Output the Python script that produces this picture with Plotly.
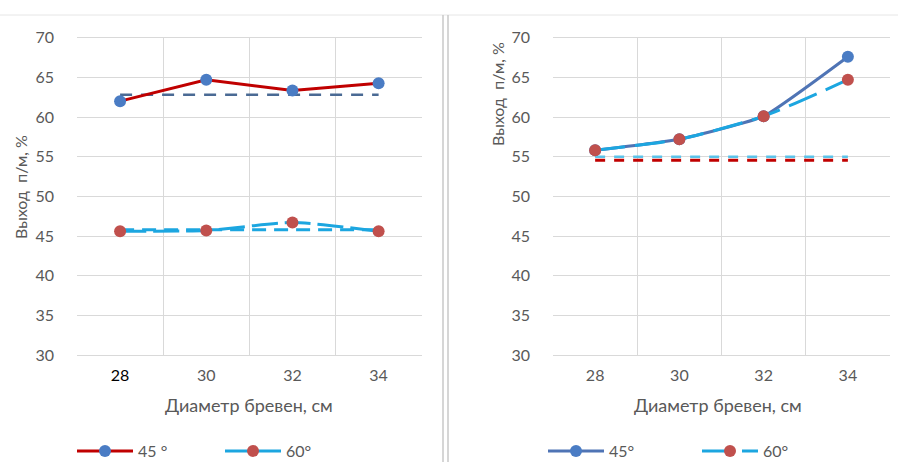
import plotly.graph_objects as go

# ---------------- data ----------------
diameters = ["28", "30", "32", "34"]

left_45 = [62.0, 64.7, 63.35, 64.25]
left_60 = [45.6, 45.7, 46.7, 45.6]
left_45_mean = [62.8, 62.8, 62.8, 62.8]
left_60_mean = [45.8, 45.8, 45.8, 45.8]

right_45 = [55.8, 57.2, 60.1, 67.6]
right_60 = [55.8, 57.2, 60.1, 64.7]
right_60_mean = [55.0, 55.0, 55.0, 55.0]
right_45_mean = [54.55, 54.55, 54.55, 54.55]

y_ticks = [30, 35, 40, 45, 50, 55, 60, 65, 70]
x_title = "Диаметр бревен, см"
y_title = "Выход  п/м, %"

# ---------------- styles ----------------
RED = "#C00000"
CYAN = "#1CA6E0"
BLUE_M = "#4A7CC4"
RED_M = "#C0504D"
BLUE_L = "#4F74B5"
GRID = "#D9D9D9"
TXT = "#595959"
FONT = "Lato, 'Open Sans', sans-serif"

fig = go.Figure()

# left panel
fig.add_trace(go.Scatter(x=diameters, y=left_45_mean, mode="lines",
                         line=dict(color="#4A6A94", width=2.5, dash="12px,9px"),
                         showlegend=False, xaxis="x", yaxis="y"))
fig.add_trace(go.Scatter(x=diameters, y=left_60_mean, mode="lines",
                         line=dict(color=CYAN, width=3, dash="14px,8px"),
                         showlegend=False, xaxis="x", yaxis="y"))
fig.add_trace(go.Scatter(x=diameters, y=left_45, mode="lines+markers", name="45 °",
                         line=dict(color=RED, width=3),
                         marker=dict(color=BLUE_M, size=12),
                         legend="legend", xaxis="x", yaxis="y"))
fig.add_trace(go.Scatter(x=diameters, y=left_60, mode="lines+markers", name="60°",
                         line=dict(color=CYAN, width=3, dash="26px,7px", shape="spline", smoothing=0.6),
                         marker=dict(color=RED_M, size=12),
                         legend="legend", xaxis="x", yaxis="y"))

# right panel
fig.add_trace(go.Scatter(x=diameters, y=right_60_mean, mode="lines",
                         line=dict(color="#5BC3EA", width=2.5, dash="10px,9px"),
                         showlegend=False, xaxis="x2", yaxis="y2"))
fig.add_trace(go.Scatter(x=diameters, y=right_45_mean, mode="lines",
                         line=dict(color=RED, width=3, dash="10px,9px"),
                         showlegend=False, xaxis="x2", yaxis="y2"))
fig.add_trace(go.Scatter(x=diameters, y=right_45, mode="lines+markers", name="45°",
                         line=dict(color=BLUE_L, width=3, shape="spline", smoothing=0.4),
                         marker=dict(color=BLUE_M, size=12),
                         legend="legend2", xaxis="x2", yaxis="y2"))
fig.add_trace(go.Scatter(x=diameters, y=right_60, mode="lines+markers", name="60°",
                         line=dict(color=CYAN, width=3, dash="30px,10px", shape="spline", smoothing=0.6),
                         marker=dict(color=RED_M, size=12),
                         legend="legend2", xaxis="x2", yaxis="y2"))

W, H = 898, 462
ydom = [1 - 355 / H, 1 - 37.7 / H]

xcommon = dict(type="category", range=[-0.5, 3.5], tickson="boundaries",
               showgrid=True, gridcolor=GRID, gridwidth=1,
               showline=True, linecolor=GRID, mirror=True,
               ticks="", tickfont=dict(family=FONT, size=16, color=TXT),
               ticklabelstandoff=6, zeroline=False, fixedrange=True, automargin=False)
ycommon = dict(range=[30, 70], tickvals=y_ticks, showgrid=True, gridcolor=GRID,
               gridwidth=1, zeroline=False, showline=False, ticks="",
               tickfont=dict(family=FONT, size=16, color=TXT),
               ticklabelstandoff=22, fixedrange=True, automargin=False)

title_font = dict(family=FONT, size=18, color=TXT)
ytitle_font = dict(family=FONT, size=16, color=TXT)
leg_font = dict(family=FONT, size=16, color=TXT)

fig.update_layout(
    width=W, height=H,
    margin=dict(l=0, r=0, t=0, b=0, autoexpand=False),
    paper_bgcolor="white", plot_bgcolor="white",
    font=dict(family=FONT, color=TXT),
    xaxis=dict(domain=[77 / W, 421.7 / W], anchor="y",
               ticktext=["<span style='color:#000'>28</span>", "30", "32", "34"],
               tickvals=diameters, **xcommon),
    yaxis=dict(domain=ydom, anchor="x", **ycommon),
    xaxis2=dict(domain=[553 / W, 890 / W], anchor="y2", **xcommon),
    yaxis2=dict(domain=ydom, anchor="x2", **ycommon),
    legend=dict(orientation="h", x=72 / W, xanchor="left", y=1 - 451 / H, yanchor="middle",
                font=leg_font, itemwidth=56,
                bgcolor="rgba(0,0,0,0)", tracegroupgap=0, entrywidth=77),
    legend2=dict(orientation="h", x=543 / W, xanchor="left", y=1 - 451 / H, yanchor="middle",
                 font=leg_font, itemwidth=56,
                 bgcolor="rgba(0,0,0,0)", tracegroupgap=0, entrywidth=83),
    annotations=[
        dict(text=x_title, x=249 / W, y=1 - 405 / H, xref="paper", yref="paper",
             xanchor="center", yanchor="middle", showarrow=False, font=title_font),
        dict(text=x_title, x=718 / W, y=1 - 405 / H, xref="paper", yref="paper",
             xanchor="center", yanchor="middle", showarrow=False, font=title_font),
        dict(text=y_title, x=20 / W, y=1 - 187 / H, xref="paper", yref="paper",
             xanchor="center", yanchor="middle",
             showarrow=False, textangle=-90, font=ytitle_font),
        dict(text=y_title, x=497 / W, y=1 - 94 / H, xref="paper", yref="paper",
             xanchor="center", yanchor="middle",
             showarrow=False, textangle=-90, font=ytitle_font),
    ],
    shapes=[
        dict(type="line", xref="paper", yref="paper", x0=0, x1=1, y0=1 - 15 / H, y1=1 - 15 / H,
             line=dict(color="#E6E6E6", width=1)),
        dict(type="line", xref="paper", yref="paper", x0=443 / W, x1=443 / W, y0=0, y1=1 - 15 / H,
             line=dict(color="#C8C8C8", width=1.5)),
        dict(type="line", xref="paper", yref="paper", x0=448 / W, x1=448 / W, y0=0, y1=1 - 15 / H,
             line=dict(color="#C8C8C8", width=1.5)),
    ],
)

fig.write_html("out.html", config={"displayModeBar": False},
               post_script="document.body.style.margin='0';document.body.style.overflow='hidden';")
